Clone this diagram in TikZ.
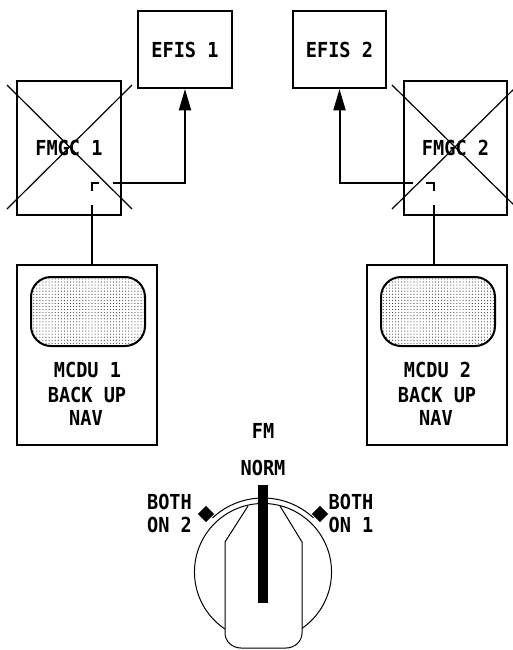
\documentclass[tikz,border=0pt]{standalone}
\usepackage{fontspec}
\setmainfont{DejaVu Sans Mono}[FakeStretch=0.9]
\usetikzlibrary{arrows.meta,patterns.meta}
\newcommand\diaglbl{\fontsize{15.5}{18}\selectfont\bfseries}
\begin{document}
\begin{tikzpicture}[x=0.75pt,y=-0.75pt,
  box/.style={draw,line width=1.5pt,inner sep=0pt,font=\diaglbl},
  txt/.style={inner sep=0pt,anchor=base,font=\diaglbl},
  wire/.style={line width=1.5pt},
  arr/.style={line width=1.5pt,-{Triangle[length=16pt,width=9pt]}},
  xline/.style={line width=0.9pt},
  screen/.style={draw,line width=1.5pt,rounded corners=15pt,pattern={Dots[distance=2.3pt,radius=0.42pt]},pattern color=black!80},
  thin/.style={line width=0.75pt}]
\useasboundingbox (0,0) rectangle (513,650);
\clip (0,0) rectangle (513,650);

% EFIS boxes
\node[box,minimum width=70.5pt,minimum height=57.75pt] (efis1) at (185,49.5) {EFIS 1};
\node[box,minimum width=69.75pt,minimum height=57.75pt] (efis2) at (339.5,49.5) {EFIS 2};

% FMGC boxes
\node[box,minimum width=78pt,minimum height=100.5pt] (fmgc1) at (69,148) {FMGC 1};
\node[box,minimum width=77.25pt,minimum height=100.5pt] (fmgc2) at (455.5,148) {FMGC 2};
\draw[xline] (7,85) -- (132,209);
\draw[xline] (132,85) -- (7,209);
\draw[xline] (392,85) -- (518,209);
\draw[xline] (518,85) -- (392,209);

% MCDU boxes
\node[box,minimum width=105pt,minimum height=135pt] (mcdu1) at (87,355) {};
\node[box,minimum width=105pt,minimum height=135pt] (mcdu2) at (437,355) {};
\draw[screen] (31,277) rectangle (145,346);
\draw[screen] (381,277) rectangle (495,346);
\node[txt] (m1a) at (87.5,377) {MCDU 1};
\node[txt] (m1b) at (87,402) {BACK UP};
\node[txt] (m1c) at (86,425) {NAV};
\node[txt] (m2a) at (437.5,377) {MCDU 2};
\node[txt] (m2b) at (437,402) {BACK UP};
\node[txt] (m2c) at (436,425) {NAV};

% brackets and connectors
\coordinate (b1) at (91.5,183);
\coordinate (b2) at (433.5,183);
\draw[wire] (91.5,191) -- (b1) -- (98.5,183);
\draw[wire] (433.5,191) -- (b2) -- (426,183);
\coordinate (s1) at (112.5,183);
\coordinate (s2) at (412.5,183);
\draw[arr] (s1) -| (efis1.south);
\draw[arr] (s2) -| (efis2.south);
\coordinate (v1) at (91.5,205);
\coordinate (v2) at (433.5,205);
\draw[wire] (v1) -- (v1 |- mcdu1.north);
\draw[wire] (v2) -- (v2 |- mcdu2.north);

% switch labels
\node[txt] (fm) at (263,438) {FM};
\node[txt] (norm) at (263,475) {NORM};
\node[txt] (both2a) at (169.5,509) {BOTH};
\node[txt] (both2b) at (169.5,532) {ON 2};
\node[txt] (both1a) at (351,509) {BOTH};
\node[txt] (both1b) at (351,532) {ON 1};

% switch
\coordinate (c) at (263,572);
\draw[thin] (c) circle[radius=51.4pt];
\draw[thin] (c) ++(47:55.5pt) arc[start angle=47,end angle=133,radius=55.5pt];
\fill[white] (248,506) -- (225,542) -- (225,633) to[out=-90,in=180] (241,648) -- (286,648) to[out=0,in=-90] (302,633) -- (302,542) -- (280,506) -- cycle;
\draw[thin] (248,506) -- (225,542) -- (225,633) to[out=-90,in=180] (241,648) -- (286,648) to[out=0,in=-90] (302,633) -- (302,542) -- (280,506);
\fill (258,485) rectangle (268,603);
\node[fill,rotate=45,minimum size=8.5pt,inner sep=0pt] (d2) at (206,514) {};
\node[fill,rotate=45,minimum size=8.5pt,inner sep=0pt] (d1) at (320,514) {};
\end{tikzpicture}
\end{document}
